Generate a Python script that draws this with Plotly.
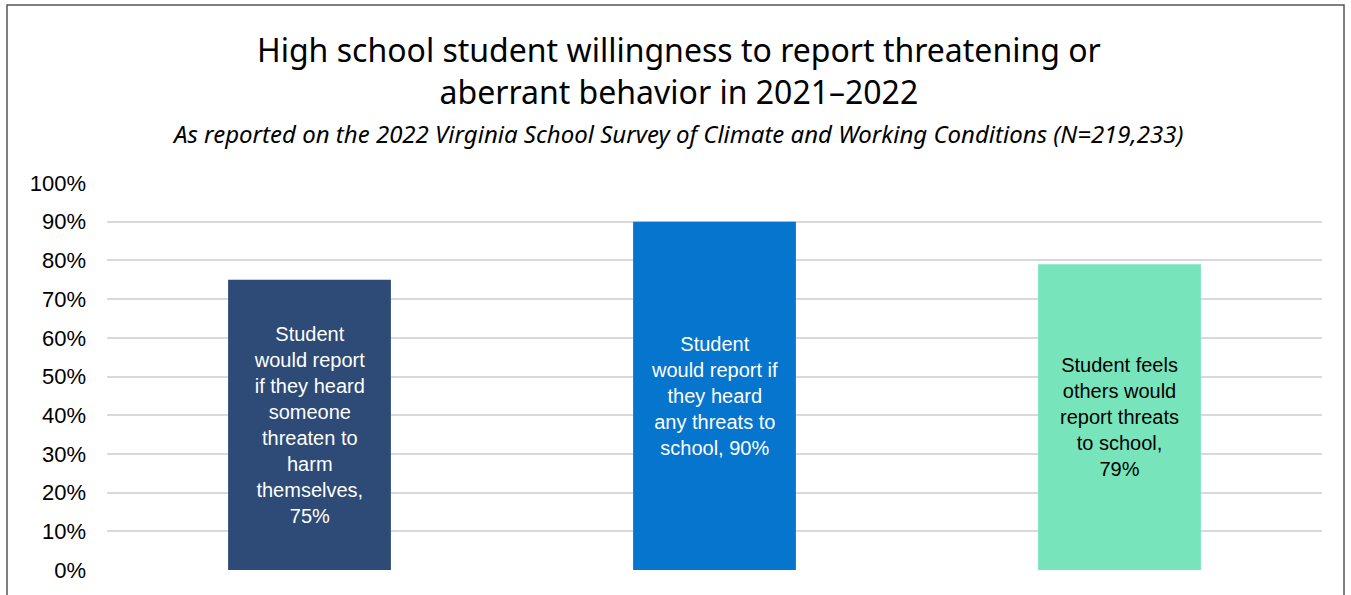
import plotly.graph_objects as go

# Survey items (bar labels without the value) and the share of students agreeing
label_prefix = [
    "Student<br>would report<br>if they heard<br>someone<br>threaten to<br>harm<br>themselves,<br>",
    "Student<br>would report if<br>they heard<br>any threats to<br>school, ",
    "Student feels<br>others would<br>report threats<br>to school,<br>",
]
share = [0.75, 0.90, 0.79]
categories = ["Harm to self", "Threats to school", "Others would report"]
bar_colors = ["#2E4A76", "#0575CE", "#78E4BC"]
text_colors = ["#FFFFFF", "#FFFFFF", "#000000"]
y_ticks = [i / 10 for i in range(11)]

W, H = 1351, 595
ML, MR, MT, MB = 107, 29, 183, 25
pw, ph = W - ML - MR, H - MT - MB

fig = go.Figure(
    go.Bar(
        x=categories,
        y=share,
        customdata=label_prefix,
        texttemplate="%{customdata}%{y:.0%}",
        textposition="inside",
        insidetextanchor="middle",
        textangle=0,
        textfont=dict(family="Liberation Sans, Arial", size=20, color=text_colors),
        marker=dict(color=bar_colors, line=dict(width=0)),
        hoverinfo="skip",
    )
)

fig.update_layout(
    width=W,
    height=H,
    margin=dict(l=ML, r=MR, t=MT, b=MB),
    paper_bgcolor="white",
    plot_bgcolor="white",
    bargap=0.598,
    showlegend=False,
    title=dict(
        text="High school student willingness to report threatening or<br>aberrant behavior in 2021–2022",
        font=dict(family="Noto Sans, Open Sans, sans-serif", size=32, color="#000000"),
        x=0.5025,
        xanchor="center",
        xref="container",
        y=1 - 62 / H,
        yanchor="top",
        yref="container",
    ),
)

fig.update_xaxes(
    showticklabels=False,
    showgrid=False,
    zeroline=False,
    showline=False,
    ticks="",
)

fig.update_yaxes(
    range=[0, 1],
    tickvals=y_ticks,
    tickformat=".0%",
    tickfont=dict(family="Liberation Sans, Arial", size=22, color="#000000"),
    showgrid=True,
    gridcolor="#D9D9D9",
    gridwidth=1.5,
    zeroline=False,
    showline=False,
    ticks="",
    ticklabelstandoff=20,
)

# Subtitle under the title
fig.add_annotation(
    text="<i>As reported on the 2022 Virginia School Survey of Climate and Working Conditions (N=219,233)</i>",
    xref="paper",
    yref="paper",
    x=(677.5 - ML) / pw,
    y=(H - MB - 134) / ph,
    xanchor="center",
    yanchor="middle",
    showarrow=False,
    font=dict(family="Noto Sans, Open Sans, sans-serif", size=24, color="#000000"),
)

# Outer frame around the chart
fig.add_shape(
    type="rect",
    xref="paper",
    yref="paper",
    x0=(7 - ML) / pw,
    x1=(1344 - ML) / pw,
    y0=(H - MB - 610) / ph,
    y1=(H - MB - 5) / ph,
    line=dict(color="#555555", width=1.5),
    fillcolor="rgba(0,0,0,0)",
    layer="above",
)

fig.write_html("out.html")
